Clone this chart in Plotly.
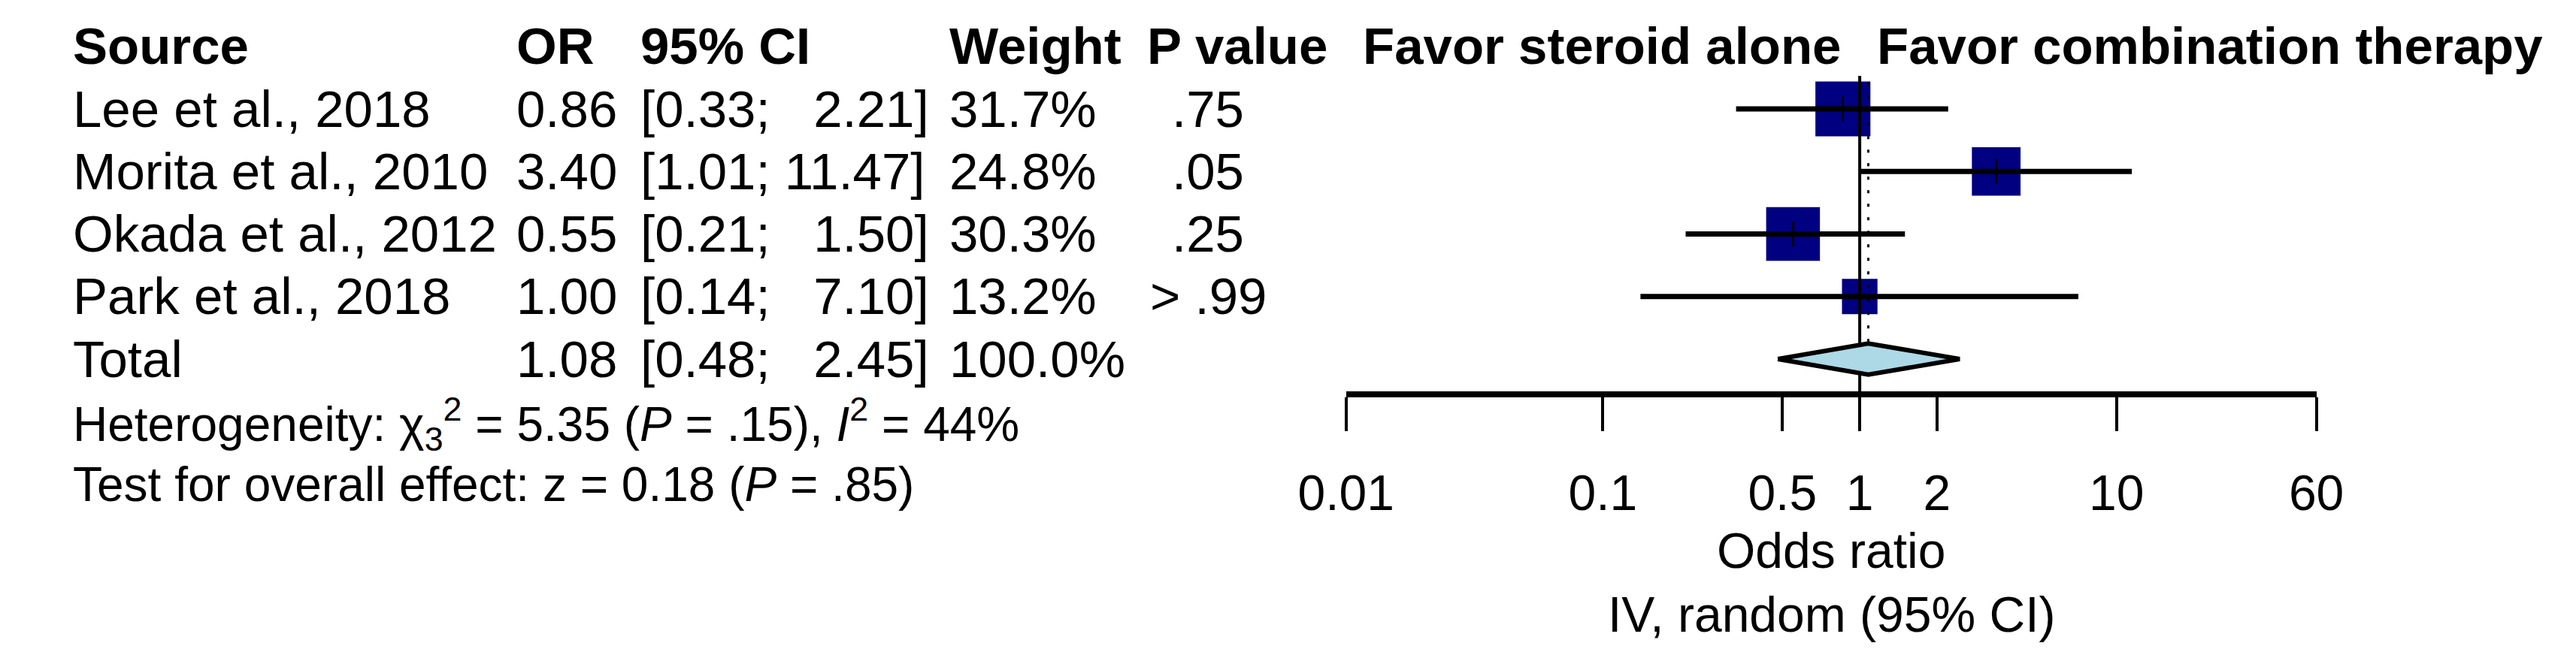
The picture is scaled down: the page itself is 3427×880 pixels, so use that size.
import math
import plotly.graph_objects as go

# ---------------- data ----------------
studies = ["Lee et al., 2018", "Morita et al., 2010", "Okada et al., 2012", "Park et al., 2018"]
odds_ratio = [0.86, 3.40, 0.55, 1.00]
ci_low = [0.33, 1.01, 0.21, 0.14]
ci_high = [2.21, 11.47, 1.50, 7.10]
weights = [31.7, 24.8, 30.3, 13.2]
p_values = [".75", ".05", ".25", "> .99"]

total_label = "Total"
total_or = 1.08
total_low = 0.48
total_high = 2.45
total_weight = 100.0

headers = ["Source", "OR", "95% CI", "Weight", "P value"]
favor_left = "Favor steroid alone"
favor_right = "Favor combination therapy"
heterogeneity = "Heterogeneity: χ<sub>3</sub><sup>2</sup> = 5.35 (<i>P</i> = .15), <i>I</i><sup>2</sup> = 44%"
overall = "Test for overall effect: z = 0.18 (<i>P</i> = .85)"
tick_vals = [0.01, 0.1, 0.5, 1, 2, 10, 60]
tick_text = ["0.01", "0.1", "0.5", "1", "2", "10", "60"]
axis_title_1 = "Odds ratio"
axis_title_2 = "IV, random (95% CI)"

# ---------------- layout constants ----------------
W, H = 3427, 880
FONT = "Liberation Sans, Arial, sans-serif"
FS = 69
FS_SMALL = 64
ROW0_PX = 137.0
ROW_PX = 83.25
AXIS_PX = 517
X0_PX, X1_PX = 1771, 3101
NAVY = "#000080"
DIAMOND_FILL = "#ADD8E6"

def k_of(px):
    return (px - ROW0_PX) / ROW_PX

y_top = k_of(0)
y_bot = k_of(H)
axis_k = k_of(AXIS_PX)

col_source = 24 / W
col_or = 632 / W
col_ci = 802 / W
col_weight = 1225 / W
col_p_head = 1496 / W
col_p_center = 1582 / W
col_favor_l = 1792 / W
col_favor_r = 3414 / W

rows = list(range(len(studies)))
total_row = len(studies)

fig = go.Figure()

# squares (drawn first so lines lie on top)
fig.add_trace(go.Scatter(
    x=odds_ratio, y=rows, mode="markers", opacity=1,
    marker=dict(symbol="square", color=NAVY, opacity=1,
                size=[13 * math.sqrt(w) for w in weights], line=dict(width=0)),
    hoverinfo="skip"))

# reference line at OR = 1
fig.add_trace(go.Scatter(x=[1, 1], y=[-0.53, axis_k], mode="lines",
                         line=dict(color="black", width=4), hoverinfo="skip"))
# dotted line at pooled estimate
fig.add_trace(go.Scatter(x=[total_or, total_or], y=[-0.43, 3.72], mode="lines",
                         line=dict(color="black", width=3, dash="4px,14px"), hoverinfo="skip"))

# confidence intervals
for k, lo, hi in zip(rows, ci_low, ci_high):
    fig.add_trace(go.Scatter(x=[lo, hi], y=[k, k], mode="lines",
                             line=dict(color="black", width=7), hoverinfo="skip"))

# point-estimate tick inside squares
fig.add_trace(go.Scatter(
    x=odds_ratio, y=rows, mode="markers",
    marker=dict(symbol="line-ns", size=24, color="black", line=dict(color="black", width=2.5)),
    hoverinfo="skip"))

# pooled diamond
dh = 0.25
fig.add_trace(go.Scatter(
    x=[total_low, total_or, total_high, total_or, total_low],
    y=[total_row, total_row - dh, total_row, total_row + dh, total_row],
    mode="lines", fill="toself", fillcolor=DIAMOND_FILL,
    line=dict(color="black", width=6), hoverinfo="skip"))

ann = []
def txt(x, y, text, anchor="left", size=FS, bold=False):
    ann.append(dict(x=x, y=y, xref="paper", yref="y", text=("<b>%s</b>" % text) if bold else text,
                    showarrow=False, xanchor=anchor, yanchor="middle",
                    font=dict(family=FONT, size=size, color="black")))

# header
hy = -1
txt(col_source, hy, headers[0], bold=True)
txt(col_or, hy, headers[1], bold=True)
txt(col_ci, hy, headers[2], bold=True)
txt(col_weight, hy, headers[3], bold=True)
txt(col_p_head, hy, headers[4], bold=True)
txt(col_favor_l, hy, favor_left, bold=True)
txt(col_favor_r, hy, favor_right, anchor="right", bold=True)

NB = "\u00a0"
def ci_text(lo, hi):
    hs = "%.2f" % hi
    pad = NB * (1 + 2 * (5 - len(hs)))
    return "[%.2f;%s%s]" % (lo, pad, hs)

for k, s, o, lo, hi, w, p in zip(rows, studies, odds_ratio, ci_low, ci_high, weights, p_values):
    txt(col_source, k, s)
    txt(col_or, k, "%.2f" % o)
    txt(col_ci, k, ci_text(lo, hi))
    txt(col_weight, k, "%.1f%%" % w)
    txt(col_p_center, k, p, anchor="center")

txt(col_source, total_row, total_label)
txt(col_or, total_row, "%.2f" % total_or)
txt(col_ci, total_row, ci_text(total_low, total_high))
txt(col_weight, total_row, "%.1f%%" % total_weight)

txt(col_source, total_row + 1.03, heterogeneity, size=FS_SMALL)
txt(col_source, total_row + 2.0, overall, size=FS_SMALL)

mid = (X0_PX + X1_PX) / 2 / W
txt(mid, k_of(725), axis_title_1, anchor="center", size=66)
txt(mid, k_of(810), axis_title_2, anchor="center", size=66)

fig.update_layout(
    width=W, height=H, margin=dict(l=0, r=0, t=0, b=0),
    paper_bgcolor="white", plot_bgcolor="white", showlegend=False,
    annotations=ann,
    xaxis=dict(type="log", range=[math.log10(0.01), math.log10(60)],
               domain=[X0_PX / W, X1_PX / W], anchor="free", position=1 - AXIS_PX / H,
               tickmode="array", tickvals=tick_vals, ticktext=tick_text,
               ticks="outside", ticklen=45, tickwidth=4, tickcolor="black",
               showline=True, linewidth=8, linecolor="black",
               showgrid=False, zeroline=False, ticklabelstandoff=26,
               tickfont=dict(family=FONT, size=66, color="black")),
    yaxis=dict(range=[y_bot, y_top], domain=[0, 1], visible=False,
               showgrid=False, zeroline=False),
)

fig.write_html("out.html")
